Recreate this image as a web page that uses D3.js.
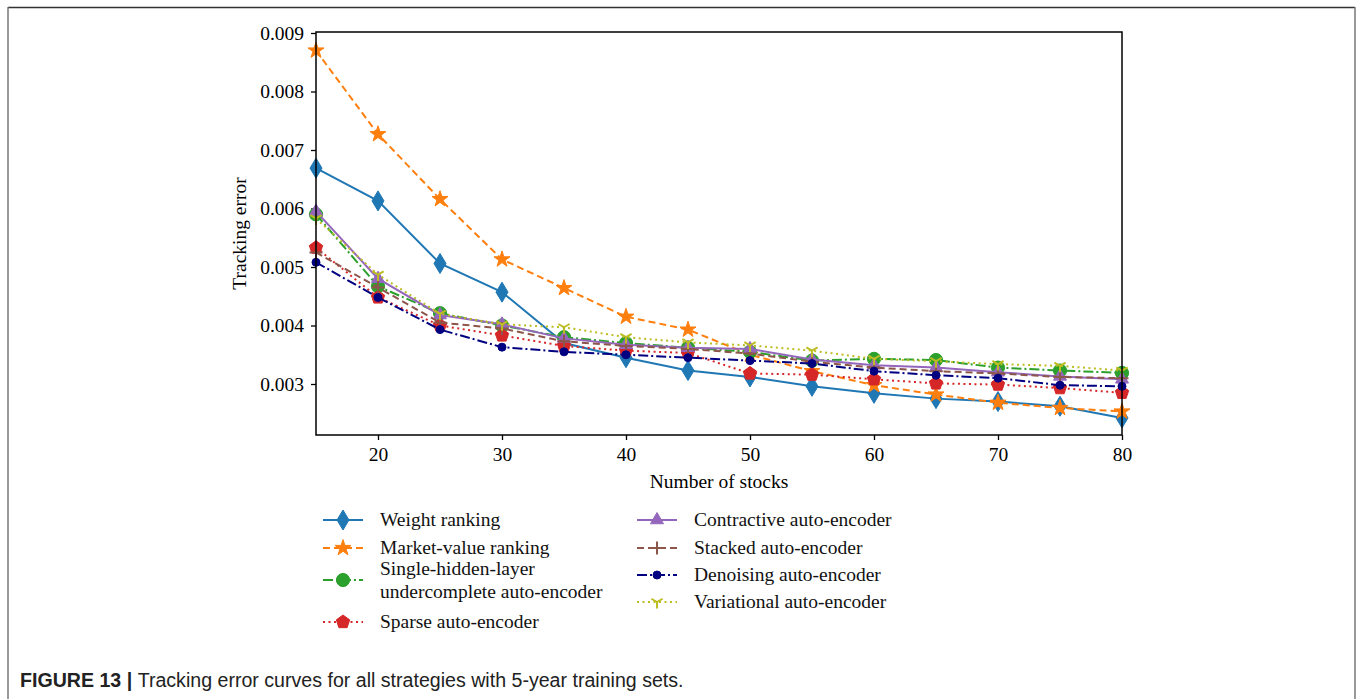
<!DOCTYPE html>
<html><head><meta charset="utf-8">
<script src="https://cdn.jsdelivr.net/npm/d3@7"></script>
<style>body{margin:0;background:#fff;}svg{display:block;}</style>
</head><body>
<script>
const xValues = [15,20,25,30,35,40,45,50,55,60,65,70,75,80];
const weightRanking = [0.00669,0.00613,0.00506,0.00457,0.00370,0.00345,0.00323,0.00312,0.00296,0.00284,0.00275,0.00270,0.00262,0.00242];
const marketValueRanking = [0.00870,0.00727,0.00616,0.00513,0.00464,0.00415,0.00393,0.00350,0.00322,0.00298,0.00282,0.00268,0.00259,0.00253];
const singleHidden = [0.00590,0.00467,0.00421,0.00400,0.00380,0.00370,0.00362,0.00355,0.00340,0.00343,0.00341,0.00328,0.00323,0.00319];
const sparseAE = [0.00533,0.00448,0.00400,0.00383,0.00365,0.00357,0.00353,0.00318,0.00316,0.00308,0.00301,0.00299,0.00293,0.00285];
const contractiveAE = [0.00595,0.00480,0.00418,0.00402,0.00378,0.00367,0.00362,0.00360,0.00342,0.00332,0.00328,0.00320,0.00313,0.00308];
const stackedAE = [0.00525,0.00465,0.00405,0.00395,0.00373,0.00365,0.00360,0.00352,0.00338,0.00328,0.00322,0.00318,0.00312,0.00310];
const denoisingAE = [0.00508,0.00448,0.00393,0.00363,0.00355,0.00350,0.00345,0.00340,0.00335,0.00322,0.00315,0.00310,0.00298,0.00296];
const variationalAE = [0.00583,0.00487,0.00420,0.00402,0.00397,0.00380,0.00371,0.00366,0.00357,0.00343,0.00339,0.00334,0.00331,0.00323];
const xTicks = [20,30,40,50,60,70,80];
const yTicks = [0.003,0.004,0.005,0.006,0.007,0.008,0.009];
const seriesNames = ["Weight ranking","Market-value ranking","Single-hidden-layer\nundercomplete auto-encoder","Sparse auto-encoder","Contractive auto-encoder","Stacked auto-encoder","Denoising auto-encoder","Variational auto-encoder"];

const series = [
  {name:seriesNames[0], values:weightRanking, color:"#1f77b4", dash:null, marker:"diamond"},
  {name:seriesNames[1], values:marketValueRanking, color:"#ff7f0e", dash:"7,4", marker:"star"},
  {name:seriesNames[2], values:singleHidden, color:"#2ca02c", dash:"10,3,2,3", marker:"circle"},
  {name:seriesNames[3], values:sparseAE, color:"#d62728", dash:"2,3.5", marker:"pentagon"},
  {name:seriesNames[4], values:contractiveAE, color:"#9467bd", dash:null, marker:"triangle"},
  {name:seriesNames[5], values:stackedAE, color:"#8c564b", dash:"7,4", marker:"plus"},
  {name:seriesNames[6], values:denoisingAE, color:"#000080", dash:"10,3,2,3", marker:"smallcircle"},
  {name:seriesNames[7], values:variationalAE, color:"#bcbd22", dash:"2,3.5", marker:"tri"}
];

const W=1360,H=699;
const svg=d3.select("body").append("svg").attr("width",W).attr("height",H);
svg.append("rect").attr("width",W).attr("height",H).attr("fill","#fff");
// frame
svg.append("line").attr("x1",8).attr("x2",1355).attr("y1",7.5).attr("y2",7.5).attr("stroke","#333").attr("stroke-width",1.5);
svg.append("line").attr("x1",8).attr("x2",8).attr("y1",7).attr("y2",699).attr("stroke","#777").attr("stroke-width",1.5);
svg.append("line").attr("x1",1355).attr("x2",1355).attr("y1",7).attr("y2",699).attr("stroke","#777").attr("stroke-width",1.5);

const L=316,R=1122,T=32,B=435;
const x=d3.scaleLinear().domain([15,80]).range([L,R]);
const y=d3.scaleLinear().domain([0.003-51/58.5*0.001, 0.003+(384-32)/58.5*0.001]).range([B,T]);

const serif="'Liberation Serif','Times New Roman',serif";
const g=svg.append("g");

const xAxis=g.append("g").attr("transform",`translate(0,${B})`).call(d3.axisBottom(x).tickValues(xTicks).tickSize(5).tickPadding(7).tickFormat(d3.format("d")));
const yAxis=g.append("g").attr("transform",`translate(${L},0)`).call(d3.axisLeft(y).tickValues(yTicks).tickSize(5).tickPadding(7).tickFormat(d3.format(".3f")));
[xAxis,yAxis].forEach(a=>{a.select(".domain").remove();a.selectAll("line").attr("stroke","#000").attr("stroke-width",1.3);a.selectAll("text").attr("font-family",serif).attr("font-size",19.5).attr("fill","#000");});

const clip=svg.append("clipPath").attr("id","clip").append("rect").attr("x",L-12).attr("y",T-12).attr("width",R-L+24).attr("height",B-T+12);

function markerPath(type, s){
  switch(type){
    case "diamond": return `M0,${-10*s}L${6*s},0L0,${10*s}L${-6*s},0Z`;
    case "star": return d3.symbol(d3.symbolStar, 80*s*s)();
    case "circle": return d3.symbol(d3.symbolCircle, Math.PI*6.6*6.6*s*s)();
    case "smallcircle": return d3.symbol(d3.symbolCircle, Math.PI*4*4*s*s)();
    case "pentagon": { const r=7*s; let p=""; for(let i=0;i<5;i++){const a=-Math.PI/2+i*2*Math.PI/5; p+=(i?"L":"M")+(r*Math.cos(a)).toFixed(2)+","+(r*Math.sin(a)).toFixed(2);} return p+"Z"; }
    case "triangle": { const r=7.5*s; return `M0,${-r}L${r*0.866},${r*0.5}L${-r*0.866},${r*0.5}Z`; }
    case "plus": { const r=6.5*s; return `M${-r},0L${r},0M0,${-r}L0,${r}`; }
    case "tri": { const r=6.5*s; return `M0,0L0,${r}M0,0L${-r*0.866},${-r*0.5}M0,0L${r*0.866},${-r*0.5}`; }
  }
}
const strokeOnly = t => t==="plus"||t==="tri";

const plot=g.append("g").attr("clip-path","url(#clip)");
const line=d3.line().x((d,i)=>x(xValues[i])).y(d=>y(d));
series.forEach(s=>{
  plot.append("path").attr("d",line(s.values)).attr("fill","none").attr("stroke",s.color).attr("stroke-width",2).attr("stroke-dasharray",s.dash);
  plot.selectAll(null).data(s.values).enter().append("path")
    .attr("transform",(d,i)=>`translate(${x(xValues[i])},${y(d)})`)
    .attr("d",markerPath(s.marker,1))
    .attr("fill",strokeOnly(s.marker)?"none":s.color)
    .attr("stroke",s.color).attr("stroke-width",strokeOnly(s.marker)?2:1);
});

// spines
g.append("rect").attr("x",L).attr("y",T).attr("width",R-L).attr("height",B-T).attr("fill","none").attr("stroke","#000").attr("stroke-width",1.5);

// axis labels
g.append("text").attr("x",(L+R)/2).attr("y",488).attr("text-anchor","middle").attr("font-family",serif).attr("font-size",19.5).text("Number of stocks");
g.append("text").attr("transform",`translate(246,${(T+B)/2}) rotate(-90)`).attr("text-anchor","middle").attr("font-family",serif).attr("font-size",19.5).text("Tracking error");

// legend
const legendPos=[[323,520],[323,548],[323,580],[323,622],[637,520],[637,548],[637,575],[637,602]];
series.forEach((s,i)=>{
  const [lx,ly]=legendPos[i];
  const lg=g.append("g");
  lg.append("line").attr("x1",lx).attr("x2",lx+40).attr("y1",ly).attr("y2",ly).attr("stroke",s.color).attr("stroke-width",2).attr("stroke-dasharray",s.dash);
  lg.append("path").attr("transform",`translate(${lx+20},${ly})`).attr("d",markerPath(s.marker,1))
    .attr("fill",strokeOnly(s.marker)?"none":s.color).attr("stroke",s.color).attr("stroke-width",strokeOnly(s.marker)?2:1);
  const lines=s.name.split("\n");
  const t=lg.append("text").attr("font-family",serif).attr("font-size",19.5).attr("fill","#111");
  lines.forEach((ln,j)=>{
    t.append("tspan").attr("x",lx+57).attr("y",ly+6+(j-(lines.length-1)/2)*23).text(ln);
  });
});

// caption
const cap=svg.append("text").attr("x",20).attr("y",687).attr("font-family","'Liberation Sans',Arial,sans-serif").attr("font-size",19.6).attr("fill","#222");
cap.append("tspan").attr("font-weight","bold").text("FIGURE 13 | ");
cap.append("tspan").text("Tracking error curves for all strategies with 5-year training sets.");
</script>
</body></html>
